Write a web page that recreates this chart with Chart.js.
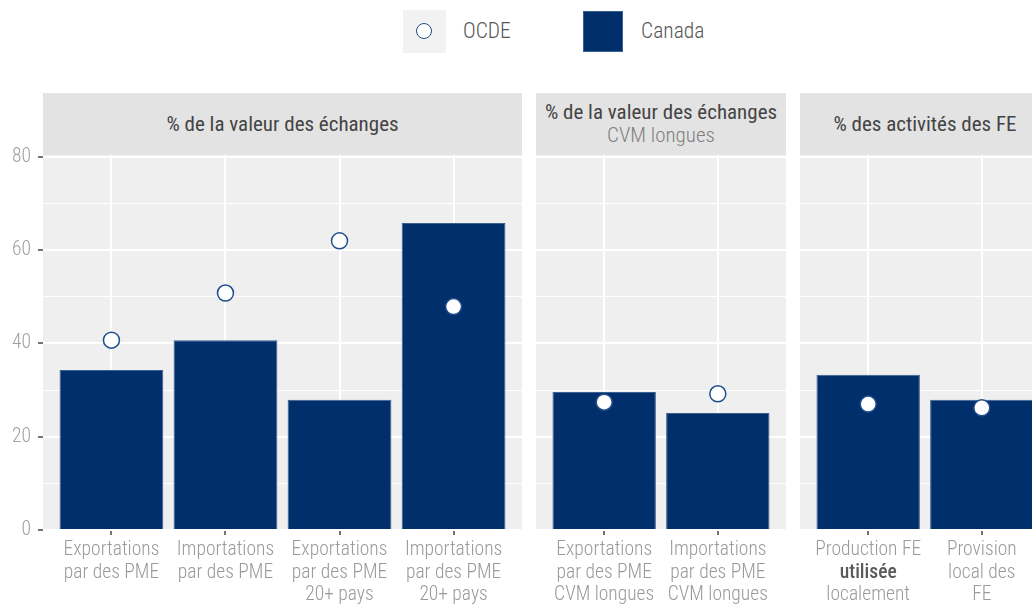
<!DOCTYPE html>
<html>
<head>
<meta charset="utf-8">
<script src="https://cdn.jsdelivr.net/npm/chart.js@4/dist/chart.umd.min.js"></script>
<style>
  body { margin: 0; width: 1032px; height: 604px; overflow: hidden; background: #fff; position: relative;
         font-family: "Roboto Condensed", Roboto, sans-serif; }
  canvas { position: absolute; top: 93px; }
  .strip { position: absolute; top: 93px; height: 62px; background: #e3e3e3; color: #444; font-size: 21px;
           display: flex; flex-direction: column; justify-content: center; align-items: center; line-height: 23px; }
  .strip .sub { color: #808080; font-weight: 300; }
  .key { position: absolute; top: 10px; width: 43px; height: 43px; }
  .lab { position: absolute; top: 18px; font-size: 21.5px; color: #555; font-weight: 300; }
</style>
</head>
<body>
<div class="key" style="left:403px;background:#f2f2f2;">
  <div style="position:absolute;left:13px;top:13px;width:14px;height:14px;border:1.5px solid #1f4e8c;border-radius:50%;background:#fff;"></div>
</div>
<div class="lab" style="left:463px;">OCDE</div>
<div class="key" style="left:583px;width:40px;background:#002f6c;border:1px solid #3a5f92;box-sizing:border-box;top:11px;height:41px;"></div>
<div class="lab" style="left:641px;">Canada</div>

<div class="strip" style="left:43px;width:479px;"><div>% de la valeur des échanges</div></div>
<div class="strip" style="left:536px;width:250px;"><div>% de la valeur des échanges</div><div class="sub">CVM longues</div></div>
<div class="strip" style="left:800px;width:250px;"><div>% des activités des FE</div></div>

<canvas id="c1" width="522" height="511" style="left:0px"></canvas>
<canvas id="c2" width="250" height="511" style="left:536px"></canvas>
<canvas id="c3" width="250" height="511" style="left:800px"></canvas>

<script>
// categories (one array of lines per bar)
const catsTrade = [
  ["Exportations", "par des PME"],
  ["Importations", "par des PME"],
  ["Exportations", "par des PME", "20+ pays"],
  ["Importations", "par des PME", "20+ pays"]
];
const catsGvc = [
  ["Exportations", "par des PME", "CVM longues"],
  ["Importations", "par des PME", "CVM longues"]
];
const catsFe = [
  ["Production FE", "utilisée", "localement"],
  ["Provision", "local des", "FE"]
];
const boldWords = ["utilisée"];

// values
const canadaTrade = [34.3, 40.7, 27.9, 65.8];
const ocdeTrade = [40.7, 50.8, 62.0, 47.9];
const canadaGvc = [29.6, 25.1];
const ocdeGvc = [27.4, 29.2];
const canadaFe = [33.3, 27.9];
const ocdeFe = [27.0, 26.2];

const yTickValues = [0, 10, 20, 30, 40, 50, 60, 70, 80];

const NAVY = "#002f6c";

const panelBg = {
  id: "panelBg",
  beforeDraw(chart) {
    const { ctx, chartArea: a } = chart;
    ctx.save();
    ctx.fillStyle = "#efefef";
    ctx.fillRect(a.left, a.top, a.right - a.left, a.bottom - a.top);
    ctx.restore();
  }
};

const xLabels = {
  id: "xLabels",
  afterDraw(chart, args, opts) {
    const sx = chart.scales.x, ctx = chart.ctx;
    ctx.save();
    ctx.textAlign = "center";
    ctx.textBaseline = "middle";
    opts.cats.forEach((lines, i) => {
      const px = sx.getPixelForValue(i + 1);
      lines.forEach((t, j) => {
        const bold = boldWords.includes(t);
        ctx.font = (bold ? "500 " : "300 ") + "19.5px 'Roboto Condensed', Roboto";
        ctx.fillStyle = bold ? "#5a5a5a" : "#9a9a9a";
        ctx.fillText(t, px, chart.chartArea.bottom + 20.5 + j * 22.5);
      });
    });
    ctx.restore();
  }
};

function makePanel(id, cats, canada, ocde, showY) {
  return new Chart(document.getElementById(id), {
    type: "bar",
    data: {
      datasets: [
        {
          type: "line",
          label: "OCDE",
          data: ocde.map((v, i) => ({ x: i + 1, y: v })),
          showLine: false,
          pointRadius: 8,
          pointBackgroundColor: "#fff",
          pointBorderColor: "#1f4e8c",
          pointBorderWidth: 1.5,
          order: 0
        },
        {
          label: "Canada",
          data: canada.map((v, i) => ({ x: i + 1, y: v })),
          backgroundColor: NAVY,
          borderColor: "#3a5f92",
          borderWidth: 1,
          barPercentage: 0.91,
          categoryPercentage: 1,
          order: 1
        }
      ]
    },
    options: {
      responsive: false,
      animation: false,
      layout: { autoPadding: false, padding: { top: 62, left: 0, right: 0, bottom: 0 } },
      plugins: {
        legend: { display: false },
        tooltip: { enabled: false },
        xLabels: { cats: cats }
      },
      scales: {
        x: {
          type: "linear",
          offset: false,
          min: 0.4,
          max: cats.length + 0.6,
          afterBuildTicks: s => { s.ticks = cats.map((c, i) => ({ value: i + 1 })); },
          afterFit: s => { s.height = 74; },
          grid: { offset: false, color: "#fff", lineWidth: 2, tickLength: 5, tickColor: "#444", tickWidth: 1.5 },
          border: { display: false },
          ticks: { display: false }
        },
        y: {
          min: 0,
          max: 80.4,
          afterBuildTicks: s => { s.ticks = yTickValues.map(v => ({ value: v })); },
          afterFit: s => { s.width = showY ? 43 : 0; },
          grid: {
            color: "#fff",
            lineWidth: c => (c.tick && c.tick.value % 20 === 0 ? 2 : 1),
            drawTicks: showY,
            tickLength: 5,
            tickWidth: 1.5,
            tickColor: c => (c.tick && c.tick.value % 20 === 0 ? "#444" : "rgba(0,0,0,0)")
          },
          border: { display: false },
          ticks: {
            display: showY,
            padding: 7,
            color: "#a0a0a0",
            font: { family: "'Roboto Condensed', Roboto", size: 19.5, weight: 300 },
            callback: v => (v % 20 === 0 ? v : "")
          }
        }
      }
    },
    plugins: [panelBg, xLabels]
  });
}

makePanel("c1", catsTrade, canadaTrade, ocdeTrade, true);
makePanel("c2", catsGvc, canadaGvc, ocdeGvc, false);
makePanel("c3", catsFe, canadaFe, ocdeFe, false);
</script>
</body>
</html>
